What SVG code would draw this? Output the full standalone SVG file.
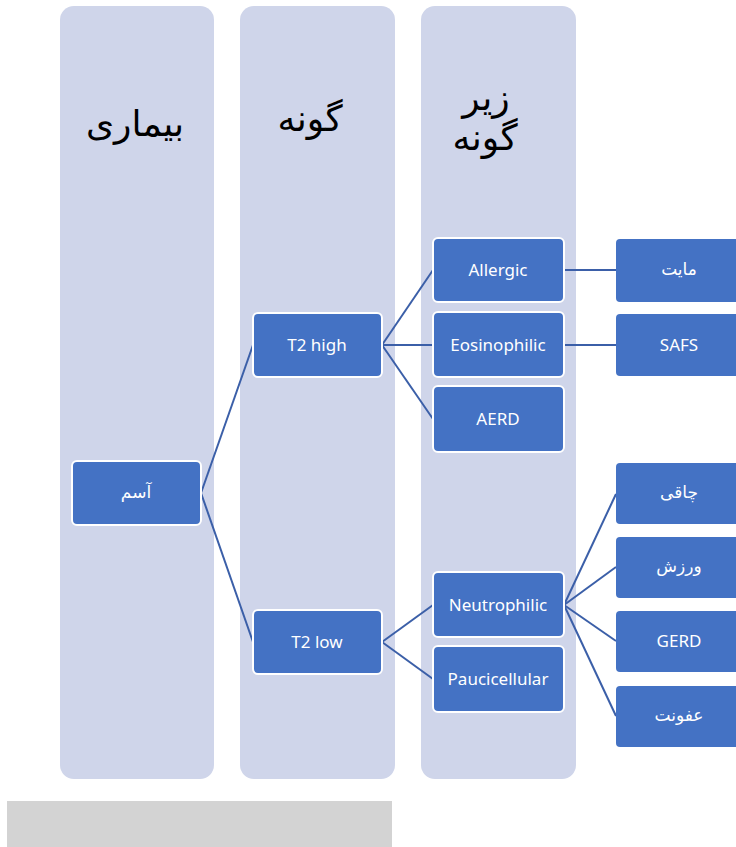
<svg xmlns="http://www.w3.org/2000/svg" width="736" height="847" viewBox="0 0 736 847">
<style>
.col{fill:#CFD5EA}
.n rect{fill:#4472C4;stroke:#fff;stroke-width:2}
.o rect{fill:#4472C4}
.n text,.o text{fill:#fff;font-family:"Noto Sans","DejaVu Sans",sans-serif;font-size:17px;text-anchor:middle}
.fa{font-family:"DejaVu Sans","Noto Sans",sans-serif;font-size:14px}
.h{font-family:"DejaVu Sans","Liberation Sans",sans-serif;font-size:36px;fill:#000;text-anchor:middle}
#edges line{stroke:#3B5FA8;stroke-width:2}
</style>
<rect width="736" height="847" fill="#fff"/>
<g id="col1"><rect class="col" x="60" y="6" width="154" height="773" rx="14"/><text class="h" x="135" y="136" direction="rtl">بیماری</text></g>
<g id="col2"><rect class="col" x="240" y="6" width="155" height="773" rx="14"/><text class="h" x="310" y="131" direction="rtl">گونه</text></g>
<g id="col3"><rect class="col" x="421" y="6" width="155" height="773" rx="14"/><text class="h" x="486" y="110" direction="rtl">زیر</text><text class="h" x="485" y="150" direction="rtl">گونه</text></g>
<rect x="7" y="801" width="385" height="46" fill="#D3D3D3"/>
<g id="edges">
<line x1="201" y1="493" x2="253" y2="345"/>
<line x1="201" y1="493" x2="253" y2="642"/>
<line x1="382" y1="345" x2="433" y2="270"/>
<line x1="382" y1="345" x2="433" y2="345"/>
<line x1="382" y1="345" x2="433" y2="419"/>
<line x1="382" y1="642" x2="433" y2="605"/>
<line x1="382" y1="642" x2="433" y2="679"/>
<line x1="564" y1="270" x2="616" y2="270"/>
<line x1="564" y1="345" x2="616" y2="345"/>
<line x1="564" y1="605" x2="616" y2="494"/>
<line x1="564" y1="605" x2="616" y2="567"/>
<line x1="564" y1="605" x2="616" y2="641"/>
<line x1="564" y1="605" x2="616" y2="716"/>
</g>
<g id="asthma" class="n"><rect x="72" y="461" width="129" height="64" rx="5"/><text class="fa" x="136" y="498" direction="rtl">آسم</text></g>
<g id="t2high" class="n"><rect x="253" y="313" width="129" height="64" rx="5"/><text x="317" y="351">T2 high</text></g>
<g id="t2low" class="n"><rect x="253" y="610" width="129" height="64" rx="5"/><text x="317" y="648">T2 low</text></g>
<g id="allergic" class="n"><rect x="433" y="238" width="131" height="64" rx="5"/><text x="498" y="276">Allergic</text></g>
<g id="eosinophilic" class="n"><rect x="433" y="312" width="131" height="65" rx="5"/><text x="498" y="351">Eosinophilic</text></g>
<g id="aerd" class="n"><rect x="433" y="386" width="131" height="66" rx="5"/><text x="498" y="425">AERD</text></g>
<g id="neutrophilic" class="n"><rect x="433" y="572" width="131" height="65" rx="5"/><text x="498" y="611">Neutrophilic</text></g>
<g id="paucicellular" class="n"><rect x="433" y="646" width="131" height="66" rx="5"/><text x="498" y="685">Paucicellular</text></g>
<g id="mite" class="o"><rect x="616" y="239" width="130" height="63" rx="4"/><text class="fa" x="679" y="275" direction="rtl">مایت</text></g>
<g id="safs" class="o"><rect x="616" y="314" width="130" height="62" rx="4"/><text x="679" y="351">SAFS</text></g>
<g id="obesity" class="o"><rect x="616" y="463" width="130" height="61" rx="4"/><text class="fa" x="679" y="498" direction="rtl">چاقی</text></g>
<g id="exercise" class="o"><rect x="616" y="537" width="130" height="61" rx="4"/><text class="fa" x="679" y="572" direction="rtl">ورزش</text></g>
<g id="gerd" class="o"><rect x="616" y="611" width="130" height="61" rx="4"/><text x="679" y="647">GERD</text></g>
<g id="infection" class="o"><rect x="616" y="686" width="130" height="61" rx="4"/><text class="fa" x="679" y="721" direction="rtl">عفونت</text></g>
</svg>
